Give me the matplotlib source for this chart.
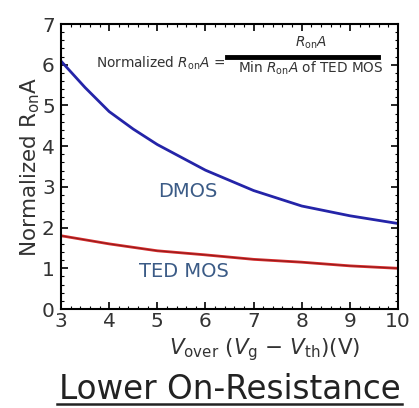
import matplotlib
matplotlib.use("Agg")
import matplotlib.pyplot as plt
from matplotlib.ticker import AutoMinorLocator
from matplotlib.lines import Line2D

v_dmos = [3, 3.5, 4, 4.5, 5, 6, 7, 8, 9, 10]
dmos = [6.09, 5.44, 4.85, 4.42, 4.04, 3.41, 2.91, 2.53, 2.29, 2.10]
v_ted = [3, 4, 5, 6, 7, 8, 9, 10]
ted_mos = [1.80, 1.60, 1.43, 1.33, 1.22, 1.15, 1.06, 1.00]

TXT = "#333333"
LBL = "#3b5b86"

fig = plt.figure(figsize=(4.19, 4.08), dpi=100, facecolor="white")
ax = fig.add_axes([0.1456, 0.2426, 0.8044, 0.6985])

ax.plot(v_dmos, dmos, color="#2424a8", linewidth=2.0)
ax.plot(v_ted, ted_mos, color="#d42a2a", linewidth=2.0)
ax.plot(v_ted, ted_mos, color="#501010", linewidth=0.6, alpha=0.6)

ax.set_xlim(3, 10)
ax.set_ylim(0, 7)
ax.set_xticks(range(3, 11))
ax.set_yticks(range(0, 8))
ax.xaxis.set_minor_locator(AutoMinorLocator(5))
ax.yaxis.set_minor_locator(AutoMinorLocator(5))
ax.tick_params(which="both", direction="in", top=True, right=True, colors="black",
               labelcolor=TXT, labelsize=14.5)
ax.tick_params(axis="x", pad=2.0)
ax.tick_params(axis="y", pad=4.5)
ax.tick_params(which="major", length=5, width=1.2)
ax.tick_params(which="minor", length=2.5, width=0.8)
for s in ax.spines.values():
    s.set_linewidth(1.5)

ax.set_ylabel(r"Normalized R$_{\mathregular{on}}$A", color=TXT, fontsize=15.5, labelpad=0)
ax.set_xlabel(r"$V_{\mathregular{over}}$ ($V_{\mathregular{g}}$ $-$ $V_{\mathregular{th}}$)(V)",
              color=TXT, fontsize=15.5)
ax.xaxis.set_label_coords(0.605, -0.095)

ax.text(0.377, 0.414, "DMOS", transform=ax.transAxes, color=LBL, fontsize=14,
        ha="center", va="center")
ax.text(0.365, 0.133, "TED MOS", transform=ax.transAxes, color=LBL, fontsize=14,
        ha="center", va="center")

# formula box
ax.text(0.487, 0.863, r"Normalized $R_{\mathregular{on}}A$ =", transform=ax.transAxes,
        color=TXT, fontsize=9.8, ha="right", va="center")
ax.add_line(Line2D([0.493, 0.941], [0.884, 0.884], transform=ax.transAxes,
                   color="black", linewidth=3.5))
ax.text(0.742, 0.935, r"$R_{\mathregular{on}}A$", transform=ax.transAxes,
        color=TXT, fontsize=9.8, ha="center", va="center")
ax.text(0.742, 0.846, r"Min $R_{\mathregular{on}}A$ of TED MOS", transform=ax.transAxes,
        color=TXT, fontsize=9.8, ha="center", va="center")

fig.text(0.548, 0.046, "Lower On-Resistance", color="#222222", fontsize=23.5,
         ha="center", va="center")
fig.add_artist(Line2D([0.135, 0.96], [0.010, 0.010], transform=fig.transFigure,
                      color="#222222", linewidth=1.8))

fig.savefig("out.png", dpi=100, facecolor="white")
